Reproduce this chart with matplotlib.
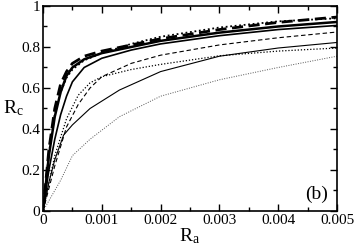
import numpy as np
import matplotlib
matplotlib.use('Agg')
import matplotlib.pyplot as plt
from matplotlib.ticker import MultipleLocator

plt.rcParams['font.family'] = ['Liberation Serif', 'DejaVu Serif']
plt.rcParams['mathtext.fontset'] = 'custom'
plt.rcParams['mathtext.rm'] = 'Liberation Serif'
plt.rcParams['mathtext.it'] = 'Liberation Serif:italic'

# data
ra = [0, 0.0001, 0.0002, 0.0003, 0.0004, 0.0005, 0.0007, 0.001, 0.0015, 0.002, 0.003, 0.004, 0.005]
thick_dashed = [0, 0.30, 0.50, 0.62, 0.68, 0.72, 0.755, 0.78, 0.81, 0.84, 0.885, 0.92, 0.946]
top_dotted = [0, 0.28, 0.47, 0.58, 0.65, 0.69, 0.735, 0.77, 0.815, 0.85, 0.895, 0.925, 0.94]
thick_solid = [0, 0.27, 0.46, 0.58, 0.66, 0.70, 0.74, 0.77, 0.80, 0.83, 0.87, 0.90, 0.922]
mid_solid = [0, 0.20, 0.35, 0.47, 0.56, 0.63, 0.70, 0.745, 0.785, 0.815, 0.855, 0.885, 0.905]

ra2 = [0, 0.0002, 0.0004, 0.0006, 0.0008, 0.001, 0.0015, 0.002, 0.003, 0.004, 0.005]
thin_dashed = [0, 0.22, 0.41, 0.52, 0.60, 0.655, 0.72, 0.76, 0.81, 0.845, 0.873]
mid_dotted = [0, 0.27, 0.45, 0.565, 0.625, 0.655, 0.69, 0.715, 0.757, 0.78, 0.795]

ra3 = [0, 0.0001, 0.0002, 0.00035, 0.0005, 0.0008, 0.0013, 0.002, 0.003, 0.004, 0.005]
thin_solid = [0, 0.14, 0.25, 0.37, 0.42, 0.50, 0.59, 0.68, 0.755, 0.795, 0.822]

ra4 = [0, 0.0001, 0.0003, 0.0005, 0.0008, 0.0013, 0.002, 0.003, 0.004, 0.005]
low_dotted = [0, 0.05, 0.15, 0.27, 0.35, 0.46, 0.56, 0.64, 0.70, 0.755]

fig = plt.figure(figsize=(3.54, 2.49), dpi=100)
ax = fig.add_axes([0.1215, 0.1526, 0.8305, 0.8234])

ax.plot(ra, thick_dashed, color='k', lw=2.0, ls=(0, (4, 2)))
ax.plot(ra, top_dotted, color='k', lw=1.3, ls=(0, (1, 1.5)))
ax.plot(ra, thick_solid, color='k', lw=1.8)
ax.plot(ra, mid_solid, color='k', lw=1.2)
ax.plot(ra2, thin_dashed, color='k', lw=0.8, ls=(0, (4, 2.5)))
ax.plot(ra2, mid_dotted, color='k', lw=0.9, ls=(0, (1, 1.5)))
ax.plot(ra3, thin_solid, color='k', lw=0.8)
ax.plot(ra4, low_dotted, color='#555555', lw=0.7, ls=(0, (1, 1.5)))

ax.set_xlim(0, 0.005)
ax.set_ylim(0, 1)
ax.xaxis.set_major_locator(MultipleLocator(0.001))
ax.xaxis.set_minor_locator(MultipleLocator(0.0005))
ax.yaxis.set_major_locator(MultipleLocator(0.2))
ax.yaxis.set_minor_locator(MultipleLocator(0.1))
ax.set_xticks([0, 0.001, 0.002, 0.003, 0.004, 0.005])
ax.set_xticklabels(['0', '0.001', '0.002', '0.003', '0.004', '0.005'])
ax.set_yticks([0, 0.2, 0.4, 0.6, 0.8, 1])
ax.set_yticklabels(['0', '0.2', '0.4', '0.6', '0.8', '1'])
ax.tick_params(which='both', direction='in', top=True, right=True, labelsize=11, width=1)
ax.tick_params(which='major', length=5, pad=2)
ax.tick_params(which='minor', length=3)
for s in ax.spines.values():
    s.set_linewidth(1.2)

ax.set_xlabel(r'$\mathrm{R}_\mathrm{a}$', fontsize=14, labelpad=0)
ax.set_ylabel(r'$\mathrm{R}_\mathrm{c}$', fontsize=14, rotation=0, labelpad=6, va='center')
ax.text(0.93, 0.08, '(b)', transform=ax.transAxes, fontsize=14, ha='center', va='center')

fig.savefig('out.png', dpi=100)
